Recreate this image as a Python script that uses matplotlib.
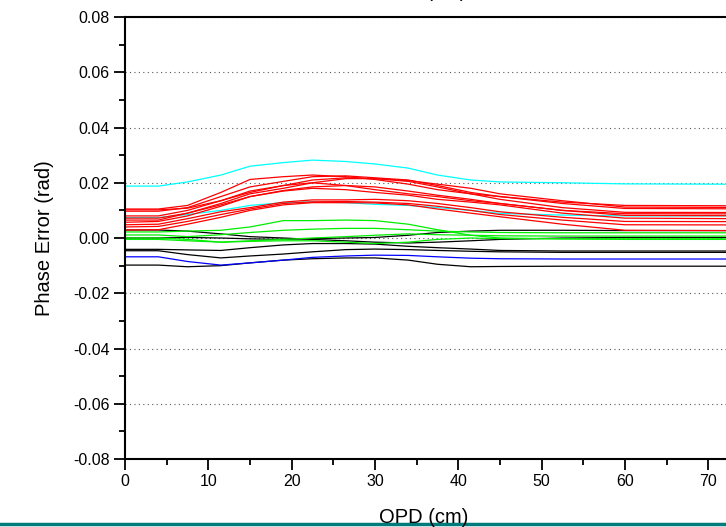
import matplotlib
matplotlib.use("Agg")
import matplotlib.pyplot as plt
from matplotlib.lines import Line2D
from matplotlib.ticker import MultipleLocator

plt.rcParams['font.family'] = ['Liberation Sans', 'DejaVu Sans']

# OPD sample positions (cm)
opd = [0, 4, 7.5, 11.5, 15, 19, 22.5, 26.5, 30, 34, 37.5, 41.5, 45, 52.5, 60, 80]

# phase error curves (rad), grouped by colour
red_curves = [
    [0.0105, 0.0105, 0.0118, 0.0165, 0.0212, 0.0222, 0.0228, 0.0222, 0.0212, 0.0195, 0.0175, 0.0160, 0.0150, 0.0130, 0.0118, 0.0116],
    [0.0097, 0.0097, 0.0110, 0.0150, 0.0185, 0.0205, 0.0222, 0.0225, 0.0218, 0.0210, 0.0190, 0.0165, 0.0150, 0.0125, 0.0107, 0.0105],
    [0.0102, 0.0102, 0.0108, 0.0135, 0.0165, 0.0190, 0.0210, 0.0218, 0.0215, 0.0208, 0.0195, 0.0180, 0.0160, 0.0135, 0.0112, 0.0110],
    [0.0080, 0.0080, 0.0100, 0.0135, 0.0170, 0.0190, 0.0200, 0.0215, 0.0215, 0.0205, 0.0185, 0.0160, 0.0140, 0.0110, 0.0093, 0.0092],
    [0.0072, 0.0072, 0.0090, 0.0120, 0.0150, 0.0172, 0.0185, 0.0190, 0.0185, 0.0170, 0.0155, 0.0140, 0.0125, 0.0100, 0.0082, 0.0080],
    [0.0065, 0.0065, 0.0090, 0.0125, 0.0160, 0.0180, 0.0200, 0.0190, 0.0175, 0.0160, 0.0150, 0.0135, 0.0125, 0.0100, 0.0088, 0.0087],
    [0.0057, 0.0060, 0.0080, 0.0115, 0.0150, 0.0170, 0.0180, 0.0175, 0.0165, 0.0155, 0.0140, 0.0130, 0.0120, 0.0090, 0.0072, 0.0069],
    [0.0048, 0.0050, 0.0070, 0.0095, 0.0110, 0.0130, 0.0138, 0.0138, 0.0140, 0.0135, 0.0125, 0.0110, 0.0095, 0.0075, 0.0060, 0.0059],
    [0.0040, 0.0042, 0.0060, 0.0085, 0.0105, 0.0125, 0.0131, 0.0132, 0.0130, 0.0125, 0.0115, 0.0100, 0.0085, 0.0065, 0.0048, 0.0047],
    [0.0029, 0.0030, 0.0050, 0.0075, 0.0100, 0.0120, 0.0128, 0.0128, 0.0127, 0.0120, 0.0105, 0.0090, 0.0077, 0.0050, 0.0028, 0.0026],
]
cyan_curves = [
    [0.0188, 0.0188, 0.0203, 0.0228, 0.0260, 0.0273, 0.0282, 0.0277, 0.0268, 0.0253, 0.0228, 0.0210, 0.0203, 0.0200, 0.0196, 0.0194],
    [0.0074, 0.0074, 0.0085, 0.0100, 0.0118, 0.0128, 0.0131, 0.0128, 0.0122, 0.0118, 0.0110, 0.0100, 0.0089, 0.0083, 0.0080, 0.0080],
]
green_curves = [
    [0.0022, 0.0022, 0.0025, 0.0028, 0.0040, 0.0063, 0.0063, 0.0065, 0.0063, 0.0050, 0.0030, 0.0010, 0.0000, -0.0003, -0.0005, -0.0005],
    [0.0011, 0.0011, 0.0005, 0.0012, 0.0020, 0.0028, 0.0032, 0.0035, 0.0035, 0.0030, 0.0025, 0.0022, 0.0020, 0.0019, 0.0019, 0.0019],
    [-0.0005, -0.0005, -0.0010, -0.0015, -0.0010, -0.0005, 0.0000, 0.0005, 0.0010, 0.0015, 0.0012, 0.0010, 0.0008, 0.0007, 0.0007, 0.0007],
    [0.0000, 0.0000, -0.0005, -0.0015, -0.0012, -0.0010, -0.0010, -0.0015, -0.0020, -0.0015, -0.0005, 0.0000, -0.0002, -0.0003, -0.0003, -0.0003],
]
black_curves = [
    [0.0029, 0.0029, 0.0025, 0.0015, 0.0005, 0.0000, -0.0005, -0.0010, -0.0015, -0.0018, -0.0015, -0.0010, -0.0005, 0.0000, 0.0002, 0.0002],
    [0.0000, 0.0000, 0.0002, 0.0000, -0.0003, -0.0005, -0.0002, 0.0000, 0.0002, 0.0010, 0.0020, 0.0025, 0.0028, 0.0028, 0.0027, 0.0027],
    [-0.0041, -0.0041, -0.0043, -0.0045, -0.0035, -0.0025, -0.0020, -0.0020, -0.0022, -0.0030, -0.0035, -0.0040, -0.0045, -0.0047, -0.0047, -0.0047],
    [-0.0046, -0.0046, -0.0060, -0.0072, -0.0065, -0.0058, -0.0050, -0.0042, -0.0040, -0.0042, -0.0045, -0.0048, -0.0050, -0.0052, -0.0052, -0.0052],
    [-0.0098, -0.0098, -0.0104, -0.0100, -0.0090, -0.0080, -0.0075, -0.0072, -0.0072, -0.0080, -0.0095, -0.0104, -0.0103, -0.0102, -0.0102, -0.0102],
]
blue_curves = [
    [-0.0068, -0.0068, -0.0085, -0.0098, -0.0090, -0.0080, -0.0070, -0.0065, -0.0062, -0.0063, -0.0068, -0.0073, -0.0075, -0.0076, -0.0076, -0.0076],
]

fig = plt.figure(figsize=(7.26, 5.27), dpi=100)
# axes runs past the right edge of the picture, as in the reference
ax = fig.add_axes([0.1722, 0.129, 0.918, 0.8387])

groups = [(black_curves, "black"), (blue_curves, "#0000ff"), (green_curves, "#00ee00"),
          (cyan_curves, "#00ffff"), (red_curves, "#ff0000")]
for curves, col in groups:
    for ys in curves:
        ax.plot(opd, ys, color=col, lw=0.9)

ax.set_xlim(0, 80)
ax.set_ylim(-0.08, 0.08)
ax.xaxis.set_major_locator(MultipleLocator(10))
ax.xaxis.set_minor_locator(MultipleLocator(5))
ax.yaxis.set_major_locator(MultipleLocator(0.02))
ax.yaxis.set_minor_locator(MultipleLocator(0.01))
ax.yaxis.set_major_formatter(matplotlib.ticker.FuncFormatter(lambda v, p: f"{v:.2f}".replace("\u2212", "-")))
ax.tick_params(which='major', direction='out', length=8, width=1.3, labelsize=11.5, pad=3)
ax.tick_params(which='minor', direction='out', length=4, width=1.3)
ax.tick_params(top=False, right=False)
for s in ax.spines.values():
    s.set_linewidth(1.5)

ax.yaxis.grid(True, which='major', color='#555555', linestyle=(0, (1, 3)), lw=0.8)
ax.set_axisbelow(True)

ax.set_ylabel("Phase Error (rad)", fontsize=14.5, labelpad=14)
fig.text(0.584, 0.037, "OPD (cm)", ha='center', va='top', fontsize=14.5)

# title sits almost entirely above the visible area
fig.text(0.643, 1.006, "Phase Error vs OPD (cm)", ha='right', va='baseline', fontsize=14.5)

# teal rule along the bottom of the slide
fig.add_artist(Line2D([0, 1], [0.006, 0.006], transform=fig.transFigure, color='#007b7b', lw=2.5))

fig.savefig("out.png", dpi=100)
